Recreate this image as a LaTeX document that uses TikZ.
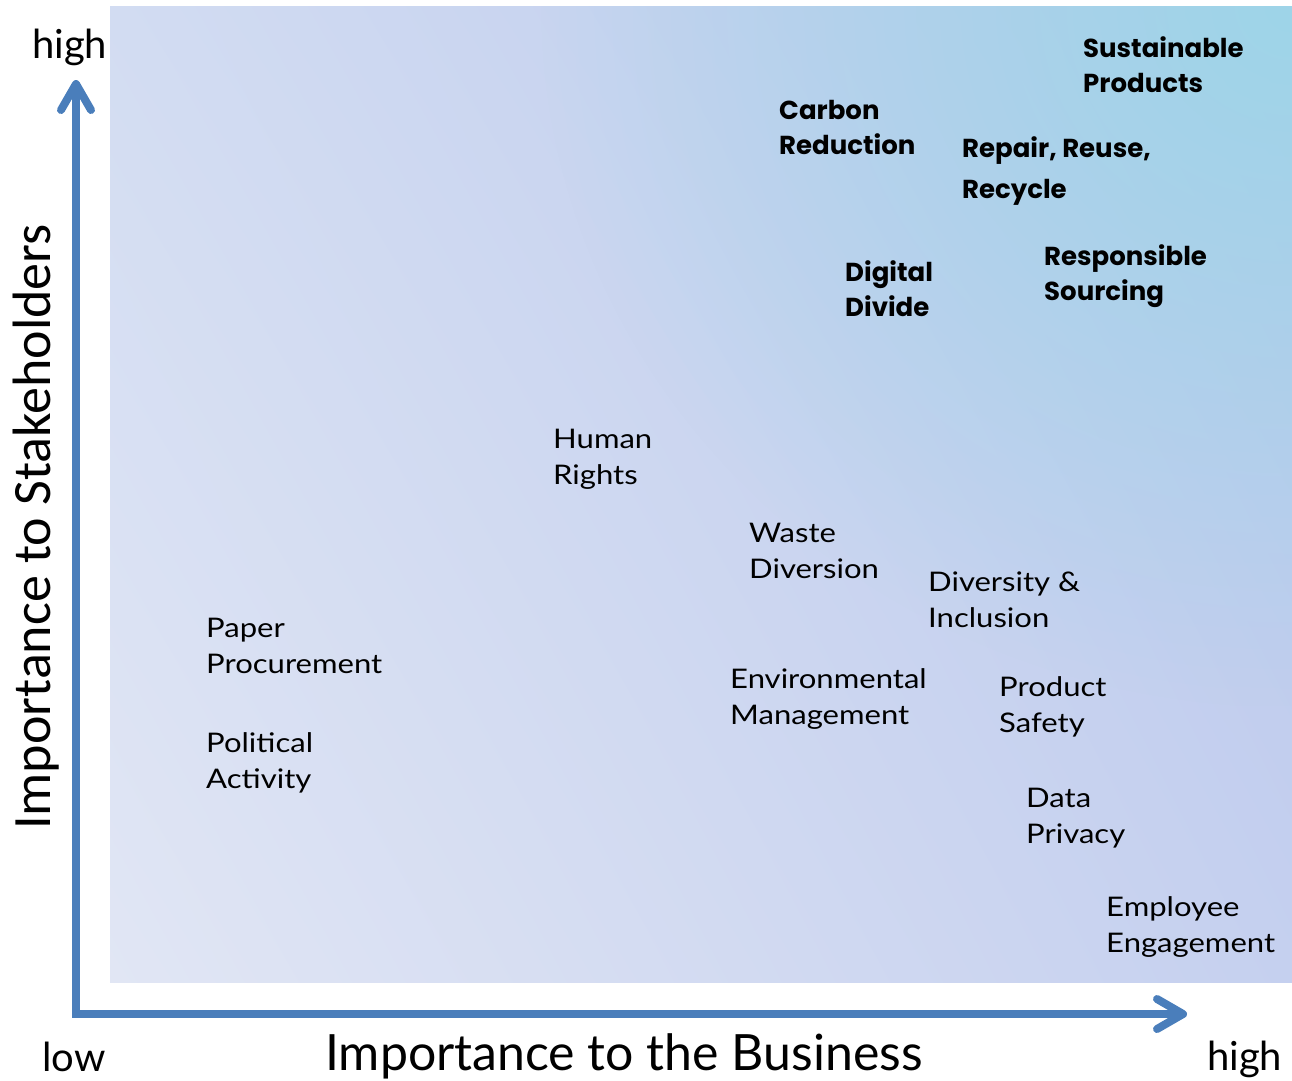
\documentclass[tikz,border=0pt]{standalone}
\usepackage{fontspec}
\setmainfont{Lato}[FakeStretch=1.15]
\newfontfamily\plainfont{Lato}
\newfontfamily\keyfont{Poppins}
\newfontfamily\sidefont{Carlito}
\usetikzlibrary{arrows.meta,shadings,fadings}
\definecolor{axisblue}{RGB}{74,126,187}
\definecolor{bgul}{RGB}{210,220,242}
\definecolor{bgur}{RGB}{184,199,236}
\definecolor{bgll}{RGB}{225,230,244}
\definecolor{bglr}{RGB}{197,208,239}
\definecolor{bghigh}{RGB}{158,213,232}
\tikzfading[name=glow, inner color=transparent!0, outer color=transparent!100]

\begin{document}
\begin{tikzpicture}[x=1pt,y=-1pt,
    issue/.style={anchor=base west, inner sep=0pt, align=left,
      font=\fontsize{27}{36}\selectfont},
    keyissue/.style={issue, font=\fontsize{26}{35}\keyfont\bfseries},
    axis/.style={line width=8pt, draw=axisblue,
      {Straight Barb[round,length=26pt,width=30pt]}-{Straight Barb[round,length=26pt,width=30pt]}},
    axislabel/.style={anchor=base west, inner sep=0pt, font=\fontsize{40}{42}\plainfont}
  ]
  \useasboundingbox (0,0) rectangle (1292,1080);
  % background
  \shade[upper left=bgul, upper right=bgur, lower left=bgll, lower right=bglr]
    (110,6) rectangle (1292,982);
  \begin{scope}
    \clip (110,6) rectangle (1292,982);
    \fill[bghigh, path fading=glow] (542,-694) rectangle (2042,706);
  \end{scope}

  % axes
  \coordinate (origin) at (76,1014);
  \coordinate (ytip)   at (76,80);
  \coordinate (xtip)   at (1187,1014);
  \draw[axis] (ytip) -- (origin) -- (xtip);

  \node[axislabel] (yhigh) at (32,58)   {high};
  \node[axislabel] (xlow)  at (42,1071) {low};
  \node[axislabel] (xhigh) at (1207,1070) {high};
  \node[axislabel, font=\fontsize{50}{52}\plainfont] (xname) at (325,1070) {Importance to the Business};
  \node[axislabel, rotate=90, font=\fontsize{54}{56}\sidefont] (yname) at (50,830) {Importance to Stakeholders};

  % key issues (coordinates at last baseline)
  \node[keyissue] (sp) at (1083,92)  {Sustainable\\Products};
  \node[keyissue] (cr) at (779,154)  {Carbon\\Reduction};
  \node[keyissue, font=\fontsize{26}{41}\keyfont\bfseries] (rr) at (962,198) {Repair, Reuse,\\Recycle};
  \node[keyissue] (dd) at (845,316)  {Digital\\Divide};
  \node[keyissue] (rs) at (1044,300) {Responsible\\Sourcing};

  % other issues
  \node[issue] (hr) at (553,484)  {Human\\Rights};
  \node[issue] (wd) at (749,578)  {Waste\\Diversion};
  \node[issue] (di) at (928,627)  {Diversity \&\\Inclusion};
  \node[issue] (em) at (730,724)  {Environmental\\Management};
  \node[issue] (ps) at (999,732)  {Product\\Safety};
  \node[issue] (dp) at (1026,843) {Data\\Privacy};
  \node[issue] (ee) at (1106,952) {Employee\\Engagement};
  \node[issue] (pp) at (206,673)  {Paper\\Procurement};
  \node[issue] (pa) at (206,788)  {Political\\Activity};
\end{tikzpicture}
\end{document}
